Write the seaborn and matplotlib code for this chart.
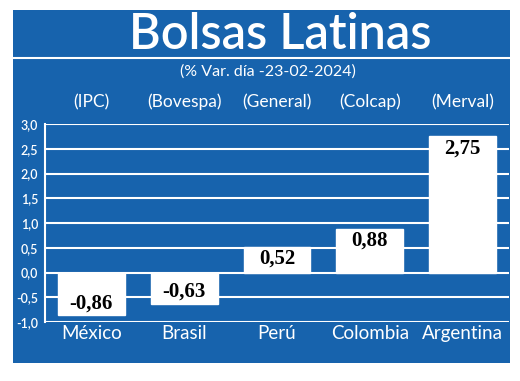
import matplotlib
matplotlib.use('Agg')
import matplotlib.pyplot as plt
import matplotlib.transforms as mtransforms
from matplotlib.patches import Rectangle
from matplotlib.ticker import FuncFormatter
import pandas as pd
import seaborn as sns

# Chart data
paises = ['México', 'Brasil', 'Perú', 'Colombia', 'Argentina']
indices = ['(IPC)', '(Bovespa)', '(General)', '(Colcap)', '(Merval)']
variacion = [-0.86, -0.63, 0.52, 0.88, 2.75]
y_ticks = [-1.0, -0.5, 0.0, 0.5, 1.0, 1.5, 2.0, 2.5, 3.0]

BLUE = '#1763ad'
SANS = ['Lato', 'DejaVu Sans']
SERIF = ['Liberation Serif', 'DejaVu Serif']

sns.set_style('white')
plt.rcParams['font.family'] = SANS

df = pd.DataFrame({'pais': paises, 'var': variacion})

fig = plt.figure(figsize=(5.2, 3.81), dpi=100)
fig.patch.set_facecolor('white')

# blue panel behind everything
fig.patches.append(Rectangle((13 / 520, 1 - 363 / 381), (510 - 13) / 520, (363 - 10) / 381,
                             transform=fig.transFigure, facecolor=BLUE, edgecolor='none', zorder=-10))
# white rule under the title
fig.lines.append(plt.Line2D([13 / 520, 510 / 520], [1 - 58 / 381] * 2, transform=fig.transFigure,
                            color='white', linewidth=1.5, zorder=-5))

ax = fig.add_axes([45 / 520, 1 - 322 / 381, (509 - 45) / 520, (322 - 124) / 381])
ax.set_facecolor(BLUE)

sns.barplot(data=df, x='pais', y='var', color='white', saturation=1, width=0.72, ax=ax, zorder=3)

ax.set_xlim(-0.5, 4.5)
ax.set_ylim(-1.0, 3.0)
ax.set_yticks(y_ticks)
ax.yaxis.set_major_formatter(FuncFormatter(lambda v, p: f'{v:.1f}'.replace('.', ',')))
ax.grid(axis='y', color='white', linewidth=1.5)
ax.set_axisbelow(True)
ax.tick_params(axis='y', length=0, pad=5, labelsize=9, labelcolor='white')
ax.tick_params(axis='x', length=0, pad=2, labelsize=13.5, labelcolor='white')
for lab in ax.get_yticklabels():
    lab.set_fontweight('semibold')
ax.set_xlabel('')
ax.set_ylabel('')
for s in ['top', 'right', 'bottom']:
    ax.spines[s].set_visible(False)
ax.spines['left'].set_color('white')
ax.spines['left'].set_linewidth(1.5)

# value labels inside the bars
for i, v in enumerate(variacion):
    off = 8.5 if v < 0 else -8.5
    ax.annotate(f'{v:.2f}'.replace('.', ','), xy=(i, v), xytext=(0, off), textcoords='offset points',
                ha='center', va='center', fontsize=15, fontweight='bold', family=SERIF,
                color='black', zorder=5)

# index names above bars
trans = mtransforms.blended_transform_factory(ax.transData, fig.transFigure)
for i, name in enumerate(indices):
    ax.text(i, 1 - 102 / 381, name, transform=trans, ha='center', va='center',
            fontsize=12.5, color='white')

fig.text(280 / 520, 1 - 35 / 381, 'Bolsas Latinas', ha='center', va='center',
         fontsize=35, fontweight='semibold', color='white', family=SANS)
fig.text(268 / 520, 1 - 72 / 381, '(% Var. día -23-02-2024)', ha='center', va='center',
         fontsize=11.5, color='white', family=SANS)

fig.savefig('out.png', dpi=100)
